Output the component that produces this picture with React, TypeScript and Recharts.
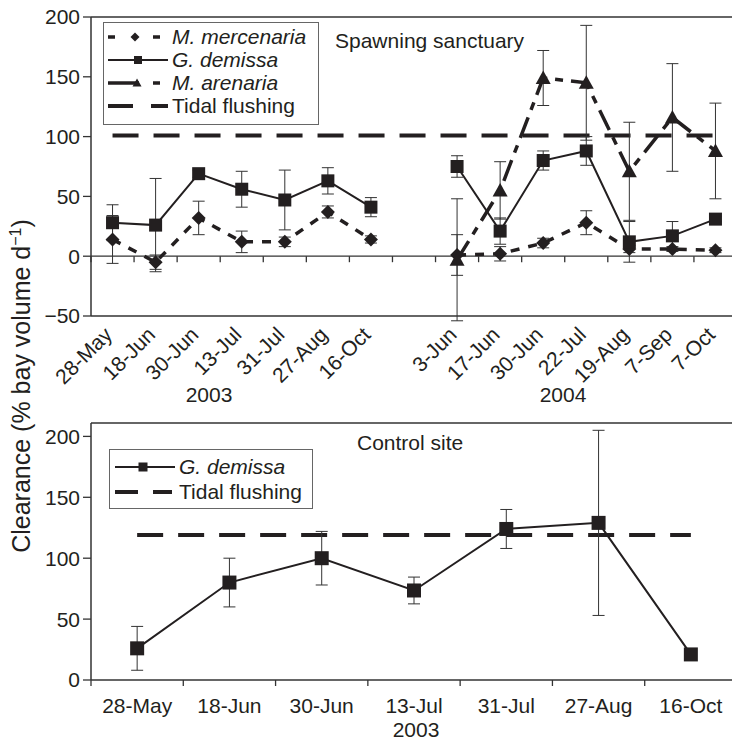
import React from 'react';
import { LineChart, Line, XAxis, YAxis, ErrorBar, ReferenceLine } from 'recharts';

const FONT = '"Liberation Sans", Arial, Helvetica, sans-serif';
const INK = '#231f20';
const AXIS = '#333333';

// spawning sanctuary (2003 + 2004, one empty slot between the years)
const SANCTUARY_DATES = ['28-May', '18-Jun', '30-Jun', '13-Jul', '31-Jul', '27-Aug', '16-Oct', '', '3-Jun', '17-Jun', '30-Jun', '22-Jul', '19-Aug', '7-Sep', '7-Oct'];
const MERCENARIA = [14, -5, 32, 12, 12, 37, 14, null, 1, 2, 11, 28, 6, 6, 5];
const MERCENARIA_ERR = [20, 6, 14, 9, 4, 5, 3, null, 17, 6, 4, 10, 3, 2, 2];
const DEMISSA = [28, 26, 69, 56, 47, 63, 41, null, 75, 21, 80, 88, 12, 17, 31];
const DEMISSA_ERR = [15, 39, 3, 15, 25, 11, 8, null, 9, 11, 8, 12, 17, 12, 2];
const ARENARIA = [null, null, null, null, null, null, null, null, -3, 55, 149, 145, 71, 116, 88];
const ARENARIA_ERR = [null, null, null, null, null, null, null, null, 51, 24, 23, 48, 41, 45, 40];
const SANCTUARY_TIDAL = [101, 101, 101, 101, 101, 101, 101, null, 101, 101, 101, 101, 101, 101, 101];
const SANCTUARY_TICKS = [-50, 0, 50, 100, 150, 200];

// control site (2003)
const CONTROL_DATES = ['28-May', '18-Jun', '30-Jun', '13-Jul', '31-Jul', '27-Aug', '16-Oct'];
const CONTROL_DEMISSA = [26, 80, 100, 73.5, 124, 129, 21];
const CONTROL_ERR = [18, 20, 22, 11, 16, 76, 4];
const CONTROL_TIDAL = [119, 119, 119, 119, 119, 119, 119];
const CONTROL_TICKS = [0, 50, 100, 150, 200];
const CONTROL_MAX = 211;

const sanctuaryData = SANCTUARY_DATES.map((date, i) => ({
  slot: i,
  date,
  merc: MERCENARIA[i],
  mercErr: MERCENARIA_ERR[i],
  dem: DEMISSA[i],
  demErr: DEMISSA_ERR[i],
  aren: ARENARIA[i],
  arenErr: ARENARIA_ERR[i],
  tidal: SANCTUARY_TIDAL[i],
}));

const controlData = CONTROL_DATES.map((date, i) => ({
  date,
  dem: CONTROL_DEMISSA[i],
  demErr: CONTROL_ERR[i],
  tidal: CONTROL_TIDAL[i],
}));

const Square = ({ cx, cy, size = 13 }: any) => (
  <rect x={cx - size / 2} y={cy - size / 2} width={size} height={size} fill={INK} />
);
const Diamond = ({ cx, cy, size = 14 }: any) => {
  const s = size / 2;
  return <polygon points={`${cx},${cy - s} ${cx + s},${cy} ${cx},${cy + s} ${cx - s},${cy}`} fill={INK} />;
};
const Triangle = ({ cx, cy, size = 15 }: any) => {
  const s = size / 2;
  return <polygon points={`${cx},${cy - s} ${cx + s},${cy + s * 0.8} ${cx - s},${cy + s * 0.8}`} fill={INK} />;
};

const dotOf = (Shape: any, size?: number) => (p: any) => {
  if (p.value == null || p.cy == null || !Number.isFinite(p.cy)) return <g key={`n-${p.index}`} />;
  return <Shape key={`d-${p.index}`} cx={p.cx} cy={p.cy} size={size} />;
};

// horizontal line with tick marks on the category boundaries
const lineWithTicks = (count: number, tick: number, drawLine: boolean) => (p: any) => {
  const step = (p.x2 - p.x1) / count;
  return (
    <g>
      {drawLine && <line x1={p.x1} y1={p.y1} x2={p.x2} y2={p.y2} stroke={AXIS} strokeWidth={1.3} />}
      {Array.from({ length: count + 1 }, (_, i) => (
        <line key={i} x1={p.x1 + step * i} x2={p.x1 + step * i} y1={p.y1} y2={p.y1 + tick} stroke={AXIS} strokeWidth={1.3} />
      ))}
    </g>
  );
};

const RotatedTick = ({ x, y, payload }: any) => {
  const ax = x + 1;
  const ay = y + 20;
  return (
    <text x={ax} y={ay} transform={`rotate(-45, ${ax}, ${ay})`} textAnchor="end" fontSize={21} fill={INK} fontFamily={FONT}>
      {SANCTUARY_DATES[payload.value]}
    </text>
  );
};

const FlatTick = ({ x, y, payload }: any) => (
  <text x={x} y={y + 33} textAnchor="middle" fontSize={21} fill={INK} fontFamily={FONT}>
    {payload.value}
  </text>
);

const minus = (v: number) => (v < 0 ? `\u2212${Math.abs(v)}` : `${v}`);
const yTick = { fontSize: 21, fill: INK, fontFamily: FONT };

const MERC_DASH = '9 9';
const AREN_DASH = '22 8 8 8';
const TIDAL_DASH = '26 15';

const Sample = ({ dash, width = 4, children }: any) => (
  <svg width={60} height={20} style={{ display: 'block', flex: 'none' }}>
    <line x1={0} x2={60} y1={10} y2={10} stroke={INK} strokeWidth={width} strokeDasharray={dash} />
    {children}
  </svg>
);

const rowStyle: React.CSSProperties = { display: 'flex', alignItems: 'center', height: 23, gap: 4 };

export default function App() {
  return (
    <div style={{ position: 'absolute', left: 0, top: 0, width: 732, height: 740, overflow: 'hidden', background: '#fff', fontFamily: FONT, color: INK }}>
      <div style={{ position: 'absolute', left: 0, top: 0 }}>
        <LineChart width={760} height={420} data={sanctuaryData} margin={{ top: 17, right: 23, bottom: 0, left: 0 }}>
          <XAxis
            dataKey="slot"
            type="category"
            scale="band"
            interval={0}
            height={104}
            tickSize={0}
            tickMargin={0}
            tickLine={false}
            tick={<RotatedTick />}
            axisLine={{ stroke: AXIS, strokeWidth: 1.5 }}
          />
          <YAxis
            domain={[-50, 200]}
            allowDataOverflow
            ticks={SANCTUARY_TICKS}
            width={91}
            tickSize={8}
            tickMargin={3}
            tick={yTick}
            tickFormatter={minus}
            axisLine={{ stroke: AXIS, strokeWidth: 1.5 }}
            tickLine={{ stroke: AXIS, strokeWidth: 1.3 }}
          />
          <ReferenceLine y={200} stroke={AXIS} strokeWidth={1.5} />
          <ReferenceLine y={0} shape={lineWithTicks(SANCTUARY_DATES.length, 6, true)} />
          <Line dataKey="tidal" stroke={INK} strokeWidth={4} strokeDasharray={TIDAL_DASH} dot={false} connectNulls isAnimationActive={false} />
          <Line dataKey="merc" stroke={INK} strokeWidth={3.5} strokeDasharray={MERC_DASH} dot={dotOf(Diamond)} isAnimationActive={false}>
            <ErrorBar dataKey="mercErr" width={6} stroke={AXIS} strokeWidth={1} />
          </Line>
          <Line dataKey="aren" stroke={INK} strokeWidth={3.5} strokeDasharray={AREN_DASH} dot={dotOf(Triangle)} isAnimationActive={false}>
            <ErrorBar dataKey="arenErr" width={6} stroke={AXIS} strokeWidth={1} />
          </Line>
          <Line dataKey="dem" stroke={INK} strokeWidth={2} dot={dotOf(Square)} isAnimationActive={false}>
            <ErrorBar dataKey="demErr" width={6} stroke={AXIS} strokeWidth={1} />
          </Line>
        </LineChart>
      </div>

      <div style={{ position: 'absolute', left: 0, top: 400 }}>
        <LineChart width={760} height={340} data={controlData} margin={{ top: 23, right: 23, bottom: 0, left: 0 }}>
          <XAxis
            dataKey="date"
            scale="band"
            interval={0}
            height={60}
            tickSize={0}
            tickMargin={0}
            tickLine={false}
            tick={<FlatTick />}
            axisLine={{ stroke: AXIS, strokeWidth: 1.5 }}
          />
          <YAxis
            domain={[0, CONTROL_MAX]}
            allowDataOverflow
            ticks={CONTROL_TICKS}
            width={91}
            tickSize={8}
            tickMargin={3}
            tick={yTick}
            axisLine={{ stroke: AXIS, strokeWidth: 1.5 }}
            tickLine={{ stroke: AXIS, strokeWidth: 1.3 }}
          />
          <ReferenceLine y={CONTROL_MAX} stroke={AXIS} strokeWidth={1.5} />
          <ReferenceLine y={0} shape={lineWithTicks(CONTROL_DATES.length, 6, false)} />
          <Line dataKey="tidal" stroke={INK} strokeWidth={4} strokeDasharray={TIDAL_DASH} dot={false} isAnimationActive={false} />
          <Line dataKey="dem" stroke={INK} strokeWidth={2} dot={dotOf(Square, 14)} isAnimationActive={false}>
            <ErrorBar dataKey="demErr" width={6} stroke={AXIS} strokeWidth={1} />
          </Line>
        </LineChart>
      </div>

      <svg width={732} height={740} style={{ position: 'absolute', left: 0, top: 0, pointerEvents: 'none' }} fontFamily={FONT} fill={INK}>
        <text x={335} y={48} fontSize={21}>Spawning sanctuary</text>
        <text x={209} y={402} fontSize={21} textAnchor="middle">2003</text>
        <text x={563} y={402} fontSize={21} textAnchor="middle">2004</text>
        <text x={357} y={450} fontSize={21}>Control site</text>
        <text x={416} y={737} fontSize={21} textAnchor="middle">2003</text>
        <text x={30} y={386} fontSize={25} textAnchor="middle" transform="rotate(-90, 30, 386)">
          Clearance (% bay volume d<tspan dy={-9} fontSize={16}>{'\u22121'}</tspan>
          <tspan dy={9}>)</tspan>
        </text>
      </svg>

      <div style={{ position: 'absolute', left: 103, top: 22, width: 210, height: 99, border: '1px solid #666', background: '#fff', padding: '2px 0 0 4px', fontSize: 21, lineHeight: '23px' }}>
        <div style={rowStyle}>
          <Sample dash="7 38" width={3.5}><Diamond cx={27} cy={10} size={9} /></Sample>
          <i>M. mercenaria</i>
        </div>
        <div style={rowStyle}>
          <Sample width={2}><Square cx={30} cy={10} size={8} /></Sample>
          <i>G. demissa</i>
        </div>
        <div style={rowStyle}>
          <Sample dash="31 14 7 100" width={3.5}><Triangle cx={29} cy={10} size={9} /></Sample>
          <i>M. arenaria</i>
        </div>
        <div style={rowStyle}>
          <Sample dash="25 18 17" width={4} />
          <span>Tidal flushing</span>
        </div>
      </div>

      <div style={{ position: 'absolute', left: 109, top: 449, width: 197, height: 54, border: '1px solid #666', background: '#fff', padding: '4px 0 0 5px', fontSize: 21, lineHeight: '23px' }}>
        <div style={{ ...rowStyle, height: 25 }}>
          <Sample width={2}><Square cx={28} cy={10} size={9} /></Sample>
          <i>G. demissa</i>
        </div>
        <div style={{ ...rowStyle, height: 25 }}>
          <Sample dash="23 15 19" width={4} />
          <span>Tidal flushing</span>
        </div>
      </div>
    </div>
  );
}
